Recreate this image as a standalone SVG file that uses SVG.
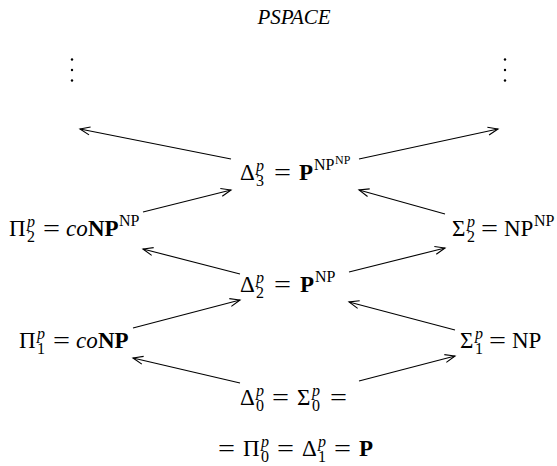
<svg xmlns="http://www.w3.org/2000/svg" width="557" height="466" viewBox="0 0 557 466">
<style>
text{font-family:"Liberation Serif","Times New Roman",serif;fill:#000;font-size:23px}
.s{font-size:16px}
.ss{font-size:12px}
.i{font-style:italic}
.b{font-weight:bold}
.c line{stroke:#000;stroke-width:1.1;marker-end:url(#ah)}
</style>
<defs>
<marker id="ah" markerUnits="userSpaceOnUse" markerWidth="14" markerHeight="12" refX="11" refY="5" orient="auto" viewBox="0 0 14 12">
<path d="M1,1 L11,5 L1,9" fill="none" stroke="#000" stroke-width="1.1"/>
</marker>
</defs>
<rect width="557" height="466" fill="#fff"/>
<g id="pspace"><text x="294" y="24" text-anchor="middle" class="i" style="font-size:21px">PSPACE</text></g>
<g id="dots-left"><circle cx="72" cy="59.5" r="1.2"/><circle cx="72" cy="70" r="1.2"/><circle cx="72" cy="80.5" r="1.2"/></g>
<g id="dots-right"><circle cx="505" cy="59.5" r="1.2"/><circle cx="505" cy="70" r="1.2"/><circle cx="505" cy="80.5" r="1.2"/></g>
<g id="delta3">
<text x="240" y="180">Δ</text><text x="256" y="170.5" class="s i">p</text><text x="256" y="186" class="s">3</text>
<text x="274" y="180" textLength="17" lengthAdjust="spacingAndGlyphs">=</text>
<text x="299" y="180" class="b">P</text><text x="314" y="170" class="s">NP</text><text x="335" y="164" class="ss">NP</text>
</g>
<g id="pi2">
<text x="9" y="236">Π</text><text x="27" y="226.5" class="s i">p</text><text x="27" y="242" class="s">2</text>
<text x="43" y="236" textLength="17" lengthAdjust="spacingAndGlyphs">=</text>
<text x="66" y="236" class="i">co</text><text x="88" y="236" class="b">NP</text><text x="119" y="226" class="s">NP</text>
</g>
<g id="sigma2">
<text x="452" y="236">Σ</text><text x="467" y="226.5" class="s i">p</text><text x="467" y="242" class="s">2</text>
<text x="481" y="236" textLength="17" lengthAdjust="spacingAndGlyphs">=</text>
<text x="504" y="236">NP</text><text x="534" y="226" class="s">NP</text>
</g>
<g id="delta2">
<text x="240" y="292">Δ</text><text x="256" y="282.5" class="s i">p</text><text x="256" y="298" class="s">2</text>
<text x="274" y="292" textLength="17" lengthAdjust="spacingAndGlyphs">=</text>
<text x="300" y="292" class="b">P</text><text x="315" y="282" class="s">NP</text>
</g>
<g id="pi1">
<text x="19" y="348">Π</text><text x="37" y="338.5" class="s i">p</text><text x="37" y="354" class="s">1</text>
<text x="53" y="348" textLength="17" lengthAdjust="spacingAndGlyphs">=</text>
<text x="76" y="348" class="i">co</text><text x="98" y="348" class="b">NP</text>
</g>
<g id="sigma1">
<text x="460" y="348">Σ</text><text x="475" y="338.5" class="s i">p</text><text x="475" y="354" class="s">1</text>
<text x="489" y="348" textLength="17" lengthAdjust="spacingAndGlyphs">=</text>
<text x="512" y="348">NP</text>
</g>
<g id="delta0">
<text x="240" y="405">Δ</text><text x="256" y="395.5" class="s i">p</text><text x="256" y="411" class="s">0</text>
<text x="272" y="405" textLength="17" lengthAdjust="spacingAndGlyphs">=</text>
<text x="297" y="405">Σ</text><text x="312" y="395.5" class="s i">p</text><text x="312" y="411" class="s">0</text>
<text x="330" y="405" textLength="17" lengthAdjust="spacingAndGlyphs">=</text>
<text x="218" y="456" textLength="17" lengthAdjust="spacingAndGlyphs">=</text>
<text x="243" y="456">Π</text><text x="261" y="446.5" class="s i">p</text><text x="261" y="462" class="s">0</text>
<text x="277" y="456" textLength="17" lengthAdjust="spacingAndGlyphs">=</text>
<text x="302" y="456">Δ</text><text x="318" y="446.5" class="s i">p</text><text x="318" y="462" class="s">1</text>
<text x="334" y="456" textLength="17" lengthAdjust="spacingAndGlyphs">=</text>
<text x="359" y="456" class="b">P</text>
</g>
<g id="connectors" class="c">
<line x1="231" y1="159" x2="80" y2="129"/>
<line x1="359" y1="159" x2="498" y2="129"/>
<line x1="143" y1="212" x2="231" y2="190"/>
<line x1="445" y1="214" x2="359" y2="190"/>
<line x1="240" y1="274" x2="143" y2="249"/>
<line x1="349" y1="272" x2="445" y2="248"/>
<line x1="133" y1="328" x2="240" y2="300"/>
<line x1="455" y1="330" x2="349" y2="302"/>
<line x1="240" y1="383" x2="133" y2="358"/>
<line x1="359" y1="381" x2="455" y2="356"/>
</g>
</svg>
